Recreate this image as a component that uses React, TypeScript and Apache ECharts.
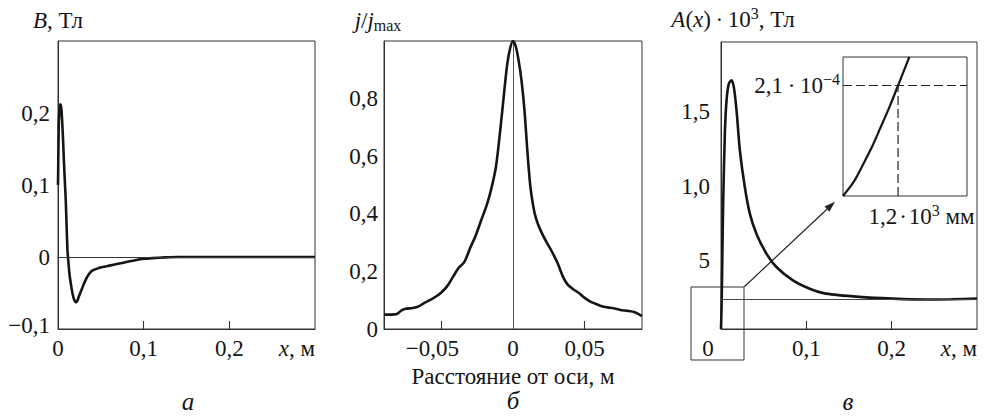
import React, { useEffect, useRef } from "react";
import * as echarts from "echarts";

const FONT = "Liberation Serif, serif";
const INK = "#151515";

// Panel а: B(x), Тл
const fieldX = [0, 0.0005, 0.001, 0.002, 0.003, 0.004, 0.005, 0.006, 0.007, 0.008, 0.009, 0.01, 0.011, 0.012, 0.0135, 0.015, 0.0165, 0.018, 0.0195, 0.021, 0.0225, 0.024, 0.026, 0.028, 0.03, 0.033, 0.036, 0.04, 0.045, 0.052, 0.06, 0.07, 0.08, 0.09, 0.1, 0.11, 0.125, 0.14, 0.2, 0.3];
const fieldB = [0.1, 0.15, 0.19, 0.208, 0.212, 0.205, 0.185, 0.16, 0.13, 0.105, 0.08, 0.045, 0.01, -0.005, -0.025, -0.037, -0.048, -0.056, -0.061, -0.063, -0.061, -0.056, -0.05, -0.044, -0.038, -0.03, -0.024, -0.019, -0.0165, -0.014, -0.012, -0.0095, -0.007, -0.0045, -0.0025, -0.0015, -0.0005, 0, 0, 0];

// Panel б: j/jmax vs distance from axis
const distX = [-0.09, -0.085, -0.081, -0.078, -0.075, -0.07, -0.066, -0.062, -0.058, -0.054, -0.05, -0.046, -0.042, -0.038, -0.034, -0.03, -0.026, -0.022, -0.018, -0.015, -0.012, -0.009, -0.006, -0.004, -0.002, 0, 0.002, 0.004, 0.006, 0.008, 0.01, 0.012, 0.014, 0.016, 0.019, 0.023, 0.027, 0.031, 0.035, 0.038, 0.042, 0.046, 0.05, 0.054, 0.058, 0.062, 0.066, 0.07, 0.075, 0.08, 0.085, 0.09];
const currentRatio = [0.05, 0.05, 0.052, 0.064, 0.07, 0.073, 0.078, 0.09, 0.1, 0.112, 0.127, 0.148, 0.18, 0.212, 0.232, 0.28, 0.325, 0.38, 0.435, 0.49, 0.56, 0.685, 0.83, 0.92, 0.975, 1.0, 0.98, 0.93, 0.86, 0.76, 0.62, 0.5, 0.43, 0.385, 0.345, 0.305, 0.27, 0.23, 0.18, 0.155, 0.138, 0.125, 0.108, 0.095, 0.087, 0.079, 0.075, 0.072, 0.066, 0.063, 0.058, 0.045];

// Panel в: A(x)·10^3, Тл
const potX = [0, 0.0005, 0.001, 0.0018, 0.0026, 0.0045, 0.0065, 0.0092, 0.0123, 0.015, 0.0182, 0.0221, 0.0279, 0.0338, 0.0415, 0.0532, 0.0649, 0.0843, 0.104, 0.123, 0.162, 0.201, 0.24, 0.27, 0.3];
const potA = [0.04, 0.15, 0.3, 0.62, 0.905, 1.354, 1.578, 1.69, 1.713, 1.668, 1.51, 1.242, 0.995, 0.816, 0.681, 0.547, 0.457, 0.367, 0.311, 0.278, 0.256, 0.244, 0.238, 0.24, 0.244];
const asymptoteA = 0.244;

// Inset (normalised units)
const insetX = [0, 0.086, 0.166, 0.234, 0.3, 0.376, 0.444, 0.535];
const insetY = [0, 0.101, 0.234, 0.354, 0.487, 0.643, 0.795, 1.0];
const insetLevelX = 0.444;
const insetLevelY = 0.795;

// Tick labels
const aXLabels = [0, 0.1, 0.2];
const aXTicks = [0.1, 0.2];
const aYLabels = [-0.1, 0, 0.1, 0.2];
const bXLabels = [-0.05, 0, 0.05];
const bXTicks = [-0.05, 0.05];
const bYLabels = [0, 0.2, 0.4, 0.6, 0.8];
const cXLabels = [0, 0.1, 0.2];
const cXTicks = [0.1, 0.2];
const cYLabels = [0.5, 1.0, 1.5];
const cYText = ["5", "1,0", "1,5"];

const zip = (xs: number[], ys: number[]) => xs.map((x, i) => [x, ys[i]]);
const fmt = (v: number) => String(+v.toFixed(3)).replace(".", ",").replace("-", "\u2212");
const DOT = "\u2009·\u2009";
const DOT2 = "\u200a·\u200a";

const FS = 23;
const base = { fontFamily: FONT, fontSize: FS, color: INK };
const rich = {
  n: { ...base },
  i: { ...base, fontStyle: "italic" },
  s: { fontFamily: FONT, fontSize: 16, color: INK, verticalAlign: "top", lineHeight: 28 },
  b: { fontFamily: FONT, fontSize: 16, color: INK, verticalAlign: "bottom", lineHeight: 26 },
  up: { ...base, padding: [0, 0, 8, 0] },
  l: { ...base, padding: [0, 26, 0, 0] },
  m: { ...base, padding: [0, 18, 0, 0] },
};

const gridStyle = { show: true, borderColor: "#333", borderWidth: 1, backgroundColor: "transparent" };
const shownLine = { show: true, onZero: false, lineStyle: { color: "#333", width: 1 } };
const hiddenLine = { show: false, onZero: false };
const tick = (vals: number[]) => ({ show: true, inside: true, length: 8, customValues: vals, lineStyle: { color: "#333", width: 1.1 } });
const noTick = { show: false };
const label = (vals: number[], formatter: any, margin = 8, extra: any = {}) => ({
  show: true,
  customValues: vals,
  formatter,
  margin,
  ...base,
  rich,
  ...extra,
});

const curveLine = { color: INK, width: 2.6 };

export default function App() {
  const ref = useRef<HTMLDivElement>(null);
  useEffect(() => {
    document.body.style.margin = "0";
    const chart = echarts.init(ref.current!, undefined, { renderer: "svg" });
    const xName = { name: "{i|x}, м", nameLocation: "end", nameGap: 0, nameTextStyle: { ...base, rich, align: "right", verticalAlign: "top", padding: [8, 0, 0, 0] } };

    // arrow geometry (annotation)
    const ax0 = 744.3, ay0 = 286.7, ax1 = 835, ay1 = 201.7;
    const dx = ax1 - ax0, dy = ay1 - ay0, L = Math.hypot(dx, dy);
    const ux = dx / L, uy = dy / L, hl = 11, hw = 3.6;
    const bx = ax1 - ux * hl, by = ay1 - uy * hl;

    chart.setOption({
      animation: false,
      textStyle: { fontFamily: FONT },
      grid: [
        { left: 58, top: 41, width: 257, height: 288, ...gridStyle },
        { left: 384, top: 41, width: 258, height: 288, ...gridStyle },
        { left: 721, top: 42, width: 256, height: 287, ...gridStyle },
        { left: 843, top: 57, width: 124, height: 139, ...gridStyle },
      ],
      xAxis: [
        {
          gridIndex: 0, type: "value", position: "bottom", min: 0, max: 0.3, axisLine: shownLine, splitLine: { show: false },
          axisTick: tick(aXTicks), axisLabel: label(aXLabels, (v: number) => fmt(v)), ...xName,
        },
        {
          gridIndex: 1, type: "value", position: "bottom", min: -0.09, max: 0.09, axisLine: shownLine, splitLine: { show: false },
          axisTick: tick(bXTicks),
          axisLabel: label(bXLabels, (v: number) => (v < 0 ? "{m|" + fmt(v) + "}" : fmt(v))),
          name: "Расстояние от оси, м", nameLocation: "middle", nameGap: 32, nameTextStyle: { ...base },
        },
        {
          gridIndex: 2, type: "value", position: "bottom", min: 0, max: 0.3, axisLine: shownLine, splitLine: { show: false },
          axisTick: tick(cXTicks),
          axisLabel: label(cXLabels, (v: number) => (Math.abs(v) < 1e-9 ? "{l|0}" : fmt(v))), ...xName,
        },
        {
          gridIndex: 3, type: "value", position: "bottom", min: 0, max: 1, axisLine: hiddenLine, splitLine: { show: false },
          axisTick: noTick,
          axisLabel: label([insetLevelX], () => "{n|1,2" + DOT2 + "10}{s|3}{n| мм}", 6, { padding: [0, 0, 0, 47] }),
        },
      ],
      yAxis: [
        {
          gridIndex: 0, type: "value", position: "left", min: -0.1, max: 0.3, axisLine: shownLine, splitLine: { show: false },
          axisTick: noTick,
          axisLabel: label(aYLabels, (v: number) => (v < -0.05 ? "{up|" + fmt(v) + "}" : fmt(v)), 8),
          name: "{i|B}, Тл", nameLocation: "end", nameGap: 9, nameTextStyle: { ...base, rich },
        },
        {
          gridIndex: 1, type: "value", position: "left", min: 0, max: 1, axisLine: shownLine, splitLine: { show: false },
          axisTick: noTick,
          axisLabel: label(bYLabels, (v: number) => fmt(v), 6),
          name: "{i|j}{n|/}{i|j}{b|max}", nameLocation: "end", nameGap: 8,
          nameTextStyle: { ...base, rich, padding: [0, 12, 0, 0] },
        },
        {
          gridIndex: 2, type: "value", position: "left", min: 0.04, max: 1.97, axisLine: shownLine, splitLine: { show: false },
          axisTick: noTick,
          axisLabel: label(cYLabels, (v: number) => cYText[cYLabels.findIndex((c) => Math.abs(c - v) < 1e-6)] ?? "", 11),
          name: "{i|A}{n|(}{i|x}{n|)" + DOT + "10}{s|3}{n|, Тл}", nameLocation: "end", nameGap: 9,
          nameTextStyle: { ...base, rich, padding: [0, 0, 0, 24] },
        },
        {
          gridIndex: 3, type: "value", position: "left", min: 0, max: 1, axisLine: hiddenLine, splitLine: { show: false },
          axisTick: noTick,
          axisLabel: label([insetLevelY], () => "{n|2,1" + DOT + "10}{s|\u22124}", 3),
        },
      ],
      series: [
        {
          type: "line", xAxisIndex: 0, yAxisIndex: 0, data: zip(fieldX, fieldB), showSymbol: false, smooth: 0.2,
          lineStyle: curveLine, z: 3,
          markLine: { silent: true, symbol: ["none", "none"], label: { show: false }, lineStyle: { color: "#333", width: 1, type: "solid" }, data: [{ yAxis: 0 }] },
        },
        {
          type: "line", xAxisIndex: 1, yAxisIndex: 1, data: zip(distX, currentRatio), showSymbol: false, smooth: 0.3,
          lineStyle: curveLine, z: 3,
          markLine: { silent: true, symbol: ["none", "none"], label: { show: false }, lineStyle: { color: "#555", width: 1, type: "solid" }, data: [{ xAxis: 0 }], z: 1 },
        },
        {
          type: "line", xAxisIndex: 2, yAxisIndex: 2, data: zip(potX, potA), showSymbol: false, smooth: 0.25,
          lineStyle: curveLine, z: 3,
          markLine: { silent: true, symbol: ["none", "none"], label: { show: false }, lineStyle: { color: "#444", width: 1, type: "solid" }, data: [{ yAxis: asymptoteA }] },
        },
        {
          type: "line", xAxisIndex: 3, yAxisIndex: 3, data: zip(insetX, insetY), showSymbol: false, smooth: 0.3,
          lineStyle: { color: INK, width: 2.2 },
        },
        {
          type: "line", xAxisIndex: 3, yAxisIndex: 3, data: [[0, insetLevelY], [1, insetLevelY]], showSymbol: false,
          lineStyle: { color: "#222", width: 1.2, type: [9, 4] },
        },
        {
          type: "line", xAxisIndex: 3, yAxisIndex: 3, data: [[insetLevelX, 0], [insetLevelX, insetLevelY]], showSymbol: false,
          lineStyle: { color: "#222", width: 1.2, type: [9, 4] },
        },
      ],
      graphic: [
        { type: "rect", shape: { x: 691, y: 287, width: 53, height: 73 }, style: { fill: "none", stroke: "#333", lineWidth: 1 } },
        { type: "line", shape: { x1: ax0, y1: ay0, x2: bx, y2: by }, style: { stroke: "#222", lineWidth: 1.2 } },
        {
          type: "polygon",
          shape: { points: [[ax1, ay1], [bx + uy * hw, by - ux * hw], [bx - uy * hw, by + ux * hw]] },
          style: { fill: "#222" },
        },
        { type: "text", x: 188, y: 401, style: { text: "а", fontFamily: FONT, fontSize: 25, fontStyle: "italic", fill: INK, align: "center", verticalAlign: "middle" } },
        { type: "text", x: 513, y: 400, style: { text: "б", fontFamily: FONT, fontSize: 25, fontStyle: "italic", fill: INK, align: "center", verticalAlign: "middle" } },
        { type: "text", x: 848, y: 401, style: { text: "в", fontFamily: FONT, fontSize: 25, fontStyle: "italic", fill: INK, align: "center", verticalAlign: "middle" } },
      ],
    });
    return () => chart.dispose();
  }, []);
  return <div ref={ref} style={{ width: 986, height: 416 }} />;
}
